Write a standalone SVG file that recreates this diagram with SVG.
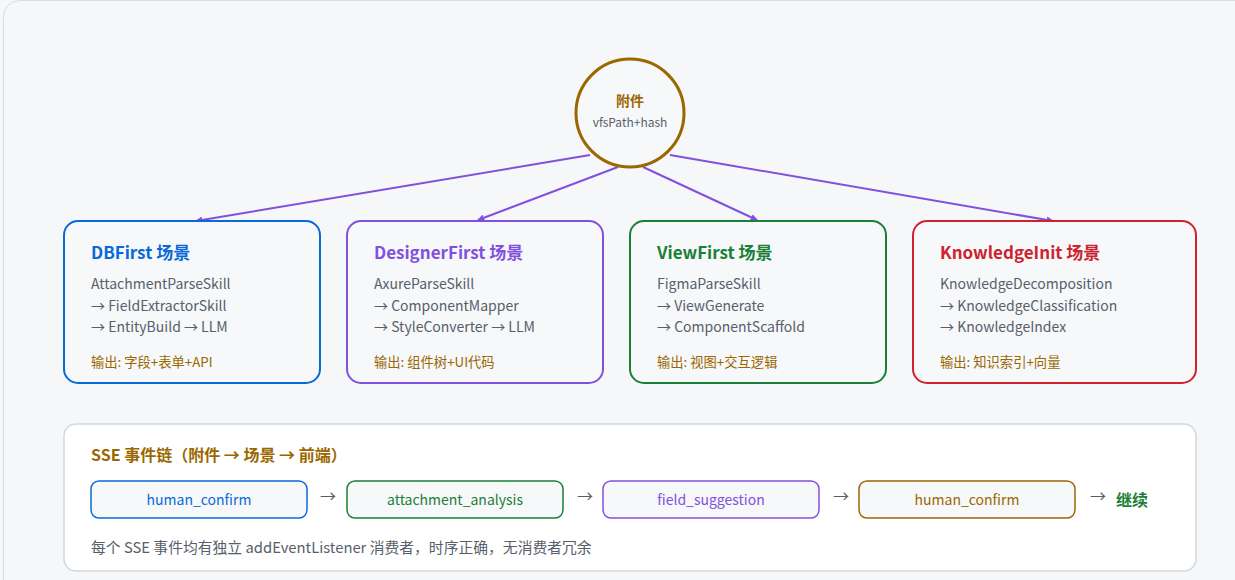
<svg xmlns="http://www.w3.org/2000/svg" width="1235" height="580" viewBox="0 0 1235 580">
<defs>
<style>
text{font-family:"Noto Sans CJK SC","Noto Sans",sans-serif}
.card{fill:#f6f8fa;stroke-width:2}
.title{font-size:17px;font-weight:bold}
.body{font-size:14px;fill:#57606a}
.out{font-size:13.3px;fill:#9a6700}
.ev{fill:#f6f8fa;stroke-width:1.5}
.evt{font-size:14px;text-anchor:middle}
.sep{font-size:16px;fill:#57606a;text-anchor:middle}
.conn{stroke:#8250df;stroke-width:2;fill:none;marker-end:url(#ah)}
</style>
<marker id="ah" viewBox="0 0 10 10" refX="9" refY="5" markerWidth="7" markerHeight="7" orient="auto" markerUnits="userSpaceOnUse">
<path d="M0,0 L10,5 L0,10 z" fill="#8250df"/>
</marker>
</defs>
<rect x="0" y="0" width="1235" height="580" fill="#f6f7f9"/>
<rect x="3.5" y="0.5" width="1260" height="620" rx="16" fill="#f6f7f9" stroke="#d8dce2"/>

<g id="connectors">
<line class="conn" x1="590" y1="155" x2="196" y2="221"/>
<line class="conn" x1="618" y1="167" x2="478" y2="220"/>
<line class="conn" x1="643" y1="167" x2="757" y2="220"/>
<line class="conn" x1="670" y1="155" x2="1053" y2="221"/>
</g>

<g id="attachment">
<circle cx="630" cy="113" r="54" fill="#f6f8fa" stroke="#9a6700" stroke-width="3"/>
<text x="630" y="106" text-anchor="middle" font-size="14" font-weight="bold" fill="#9a6700">附件</text>
<text x="630" y="127" text-anchor="middle" font-size="12" fill="#57606a">vfsPath+hash</text>
</g>

<g id="dbfirst">
<rect class="card" x="64" y="221" width="256" height="162" rx="14" stroke="#0969da"/>
<text class="title" x="91" y="259" fill="#0969da">DBFirst 场景</text>
<text class="body" x="91" y="289">AttachmentParseSkill</text>
<text class="body" x="91" y="311">→ FieldExtractorSkill</text>
<text class="body" x="91" y="332">→ EntityBuild → LLM</text>
<text class="out" x="91" y="367">输出: 字段+表单+API</text>
</g>

<g id="designerfirst">
<rect class="card" x="347" y="221" width="256" height="162" rx="14" stroke="#8250df"/>
<text class="title" x="374" y="259" fill="#8250df">DesignerFirst 场景</text>
<text class="body" x="374" y="289">AxureParseSkill</text>
<text class="body" x="374" y="311">→ ComponentMapper</text>
<text class="body" x="374" y="332">→ StyleConverter → LLM</text>
<text class="out" x="374" y="367">输出: 组件树+UI代码</text>
</g>

<g id="viewfirst">
<rect class="card" x="630" y="221" width="256" height="162" rx="14" stroke="#1a7f37"/>
<text class="title" x="657" y="259" fill="#1a7f37">ViewFirst 场景</text>
<text class="body" x="657" y="289">FigmaParseSkill</text>
<text class="body" x="657" y="311">→ ViewGenerate</text>
<text class="body" x="657" y="332">→ ComponentScaffold</text>
<text class="out" x="657" y="367">输出: 视图+交互逻辑</text>
</g>

<g id="knowledgeinit">
<rect class="card" x="913" y="221" width="283" height="162" rx="14" stroke="#cf222e"/>
<text class="title" x="940" y="259" fill="#cf222e">KnowledgeInit 场景</text>
<text class="body" x="940" y="289">KnowledgeDecomposition</text>
<text class="body" x="940" y="311">→ KnowledgeClassification</text>
<text class="body" x="940" y="332">→ KnowledgeIndex</text>
<text class="out" x="940" y="367">输出: 知识索引+向量</text>
</g>

<g id="sse-chain">
<rect x="64" y="424" width="1132" height="147" rx="12" fill="#ffffff" stroke="#d0d7de" stroke-width="1.5"/>
<text x="91" y="461" font-size="16" font-weight="bold" fill="#9a6700">SSE 事件链（附件 → 场景 → 前端）</text>
<g id="ev1">
<rect class="ev" x="91" y="481" width="216" height="37" rx="8" stroke="#0969da"/>
<text class="evt" x="199" y="505" fill="#0969da">human_confirm</text>
</g>
<text class="sep" x="328" y="502">→</text>
<g id="ev2">
<rect class="ev" x="347" y="481" width="216" height="37" rx="8" stroke="#1a7f37"/>
<text class="evt" x="455" y="505" fill="#1a7f37">attachment_analysis</text>
</g>
<text class="sep" x="585" y="502">→</text>
<g id="ev3">
<rect class="ev" x="603" y="481" width="216" height="37" rx="8" stroke="#8250df"/>
<text class="evt" x="711" y="505" fill="#8250df">field_suggestion</text>
</g>
<text class="sep" x="841" y="502">→</text>
<g id="ev4">
<rect class="ev" x="859" y="481" width="216" height="37" rx="8" stroke="#9a6700"/>
<text class="evt" x="967" y="505" fill="#9a6700">human_confirm</text>
</g>
<text class="sep" x="1098" y="502">→</text>
<text x="1116" y="506" font-size="16" font-weight="bold" fill="#1a7f37">继续</text>
<text x="91" y="553" font-size="14.8" fill="#57606a">每个 SSE 事件均有独立 addEventListener 消费者，时序正确，无消费者冗余</text>
</g>
</svg>
